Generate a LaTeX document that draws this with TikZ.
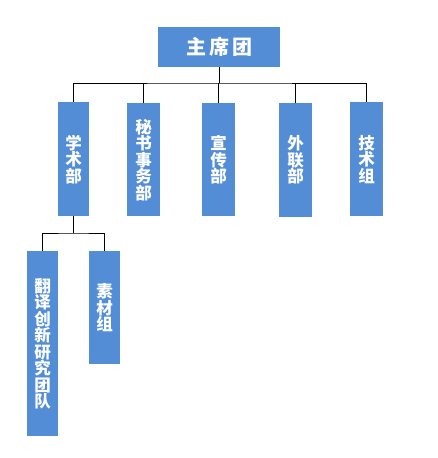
\documentclass[tikz,border=0pt]{standalone}
\usepackage{fontspec}
\newfontfamily\cjk{Noto Sans CJK SC}
\definecolor{boxblue}{RGB}{83,141,213}
\tikzset{
  org/.style={draw=none, fill=boxblue, text=white, inner sep=0pt, anchor=north west, font=\cjk\fontsize{16.5}{16.5}\selectfont\bfseries, align=center},
  link/.style={draw=black, line width=0.9pt}
}
\begin{document}
\begin{tikzpicture}[x=1pt,y=-1pt]
\useasboundingbox (0,0) rectangle (438,458);
% top
\node[org, minimum width=122pt, minimum height=40pt, font=\cjk\fontsize{20}{22}\selectfont\bfseries] (top) at (158,27) {主\hspace{3pt}席\hspace{3pt}团};
% second level
\node[org, minimum width=31pt, minimum height=114pt] (xs) at (58,102) {学\\术\\部};
\node[org, minimum width=33pt, minimum height=113pt] (ms) at (127,103) {秘\\书\\事\\务\\部};
\node[org, minimum width=33pt, minimum height=113pt] (xc) at (202,103) {宣\\传\\部};
\node[org, minimum width=33pt, minimum height=114pt] (wl) at (279,103) {外\\联\\部};
\node[org, minimum width=33pt, minimum height=114pt] (js) at (350,102) {技\\术\\组};
% third level
\node[org, minimum width=31pt, minimum height=185pt] (fy) at (27,251) {翻\\译\\创\\新\\研\\究\\团\\队};
\node[org, minimum width=31pt, minimum height=113pt] (sc) at (89,251) {素\\材\\组};
% connectors
\coordinate (bar) at (0,83);
\coordinate (bar2) at (0,233);
\draw[link] (top.south) -- (top.south |- bar);
\draw[link] (xs.north) |- (top.south |- bar) -| (js.north);
\draw[link] (ms.north) -- (ms.north |- bar);
\draw[link] (xc.north) -- (xc.north |- bar);
\draw[link] (wl.north) -- (wl.north |- bar);
\draw[link] (xs.south) -- (xs.south |- bar2);
\draw[link] (fy.north) |- (xs.south |- bar2) -| (sc.north);
\end{tikzpicture}
\end{document}
